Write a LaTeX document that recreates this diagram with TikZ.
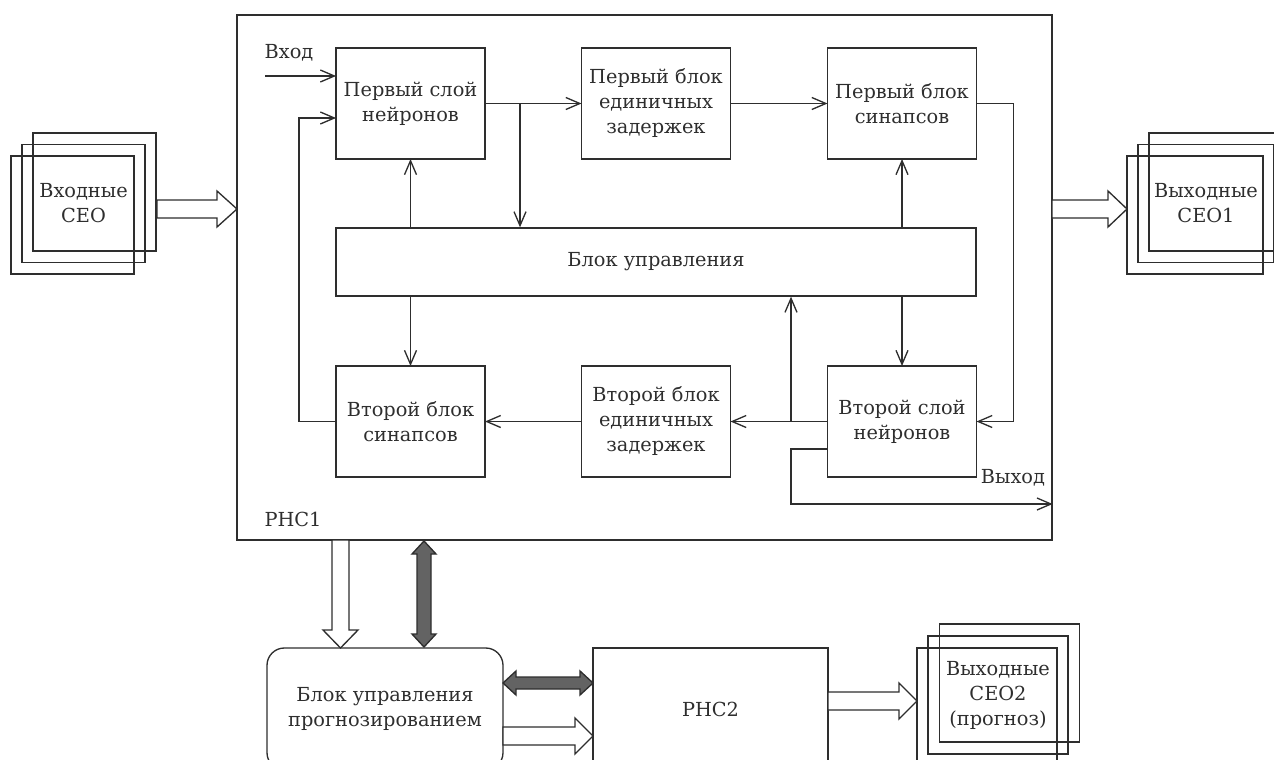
\documentclass[tikz,border=0pt]{standalone}
\usepackage{fontspec}
\setmainfont{DejaVu Serif}
\usetikzlibrary{arrows.meta, positioning}
\definecolor{Line_Gray}{HTML}{2E2E2E}
\definecolor{Fill_Dark}{HTML}{636363}

\begin{document}
\begin{tikzpicture}[x=0.75pt, y=-0.75pt, color=Line_Gray, line width=1pt,
    every node/.style={font=\fontsize{14.5}{18.75}\selectfont},
    blk/.style={draw, align=center, inner sep=0pt, outer sep=0pt,
        minimum width=111.75pt, minimum height=83.25pt},
    ceo/.style={draw, align=center, inner sep=0pt, outer sep=0pt,
        minimum width=92.25pt, minimum height=88.5pt},
    conn/.style={-{Straight Barb[length=10.5pt, width=9pt]}},
    fat/.style={draw, fill=white, line join=miter},
    fatdark/.style={draw, fill=Fill_Dark, line join=miter}]
    \clip (0,0) rectangle (1274,760);
    % РНС1 frame
    \node[draw, inner sep=0pt, minimum width=611.25pt, minimum height=393.75pt] (rns1) at (644.5,277.5) {};
    \node (rns1lbl) at (293,519) {РНС1};
    % upper row
    \node[blk] (sl1) at (410.5,103.5) {Первый слой\\нейронов};
    \node[blk] (zd1) at (656,103.5) {Первый блок\\единичных\\задержек};
    \node[blk] (sn1) at (902,103.5) {Первый блок\\синапсов};
    % control block
    \node[draw, inner sep=0pt, minimum width=480pt, minimum height=51pt] (bu) at (656,262) {Блок управления};
    % lower row
    \node[blk] (sn2) at (410.5,421.5) {Второй блок\\синапсов};
    \node[blk] (zd2) at (656,421.5) {Второй блок\\единичных\\задержек};
    \node[blk] (sl2) at (902,421.5) {Второй слой\\нейронов};
    % input
    \node (vhodlbl) at (289,53) {Вход};
    \coordinate (vhod) at (265,76);
    \draw[conn] (vhod) -- (vhod -| sl1.west);
    % forward path
    \draw[conn] (sl1) -- (zd1);
    \draw[conn] (zd1) -- (sn1);
    \coordinate (br1) at (520,103.5);
    \draw[conn] (br1) -- (br1 |- bu.north);
    \draw[conn] (sn1.east) -- ++(37,0) |- (sl2.east);
    \draw[conn] (sl2) -- (zd2);
    \draw[conn] (zd2) -- (sn2);
    \coordinate (br2) at (791,421.5);
    \draw[conn] (br2) -- (br2 |- bu.south);
    % feedback to first layer
    \coordinate (fb) at (299,118);
    \draw[conn] (sn2.west) -| (fb) -- (fb -| sl1.west);
    % control lines
    \draw[conn] (bu.north -| sl1) -- (sl1.south);
    \draw[conn] (bu.north -| sn1) -- (sn1.south);
    \draw[conn] (bu.south -| sn2) -- (sn2.north);
    \draw[conn] (bu.south -| sl2) -- (sl2.north);
    % output
    \coordinate (vyh) at (791,504);
    \draw[conn] (sl2.west |- 0,449) -| (vyh) -- (vyh -| rns1.east);
    \node (vyhlbl) at (1013,478) {Выход};

    % input signals
    \node[ceo] (ceoin3) at (94.5,192) {};
    \node[ceo] (ceoin2) at (83.5,203.5) {Входные\\СЕО};
    \node[ceo] (ceoin1) at (72.5,215) {};
    \draw[fat] (157,200) -- (217,200) -- (217,191) -- (237,209) -- (217,227) -- (217,218) -- (157,218) -- cycle;
    % output signals 1
    \node[ceo, minimum width=102pt] (ceoout3) at (1217,192) {};
    \node[ceo, minimum width=102pt] (ceoout2) at (1206,203.5) {Выходные\\СЕО1};
    \node[ceo, minimum width=102pt] (ceoout1) at (1195,215) {};
    \draw[fat] (1052,200) -- (1108,200) -- (1108,191) -- (1127,209) -- (1108,227) -- (1108,218) -- (1052,218) -- cycle;

    % forecasting part
    \node[draw, rounded corners=13pt, align=center, inner sep=0pt, minimum width=177pt, minimum height=91.5pt] (bup) at (385,709) {Блок управления\\прогнозированием};
    \node[draw, inner sep=0pt, minimum width=176.25pt, minimum height=91.5pt] (rns2) at (710.5,709) {РНС2};
    \node[ceo, minimum width=105pt] (ceopr3) at (1009.5,683) {};
    \node[ceo, minimum width=105pt] (ceopr2) at (998,695) {Выходные\\СЕО2\\(прогноз)};
    \node[ceo, minimum width=105pt] (ceopr1) at (987,707) {};
    % РНС1 -> control of forecasting
    \draw[fat] (332,540) -- (332,630) -- (323,630) -- (340.5,648) -- (358,630) -- (349,630) -- (349,540) -- cycle;
    \draw[fatdark] (424,541) -- (436,554) -- (431,554) -- (431,634) -- (436,634) -- (424,647) -- (412,634) -- (417,634) -- (417,554) -- (412,554) -- cycle;
    % control <-> РНС2
    \draw[fatdark] (503,683) -- (516,671) -- (516,677) -- (580,677) -- (580,671) -- (593,683) -- (580,695) -- (580,689) -- (516,689) -- (516,695) -- cycle;
    \draw[fat] (503,727) -- (575,727) -- (575,718) -- (593,736) -- (575,754) -- (575,745) -- (503,745) -- cycle;
    % РНС2 -> forecast
    \draw[fat] (828,692) -- (899,692) -- (899,683) -- (917,701) -- (899,719) -- (899,710) -- (828,710) -- cycle;
\end{tikzpicture}
\end{document}
